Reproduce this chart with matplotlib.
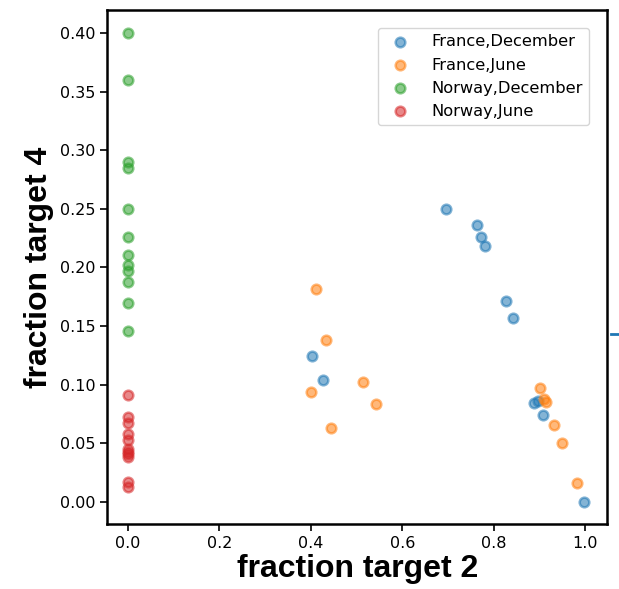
import matplotlib
matplotlib.use("Agg")
import matplotlib.pyplot as plt
from matplotlib.lines import Line2D

# France, December
fr_dec_x = [0.695, 0.764, 0.773, 0.782, 0.828, 0.842, 0.403, 0.427, 0.889, 0.898, 0.907, 0.998]
fr_dec_y = [0.2496, 0.2365, 0.2263, 0.2186, 0.1717, 0.1572, 0.1248, 0.1040, 0.0842, 0.0859, 0.0739, 0.0000]

# France, June
fr_jun_x = [0.411, 0.433, 0.515, 0.400, 0.543, 0.444, 0.902, 0.911, 0.915, 0.933, 0.949, 0.982]
fr_jun_y = [0.1817, 0.1382, 0.1023, 0.0938, 0.0833, 0.0631, 0.0975, 0.0876, 0.0850, 0.0654, 0.0506, 0.0162]

# Norway, December
no_dec_y = [0.400, 0.360, 0.290, 0.285, 0.250, 0.226, 0.211, 0.202, 0.197, 0.188, 0.170, 0.146]
no_dec_x = [0.0] * len(no_dec_y)

# Norway, June
no_jun_y = [0.0913, 0.0722, 0.0671, 0.0577, 0.0529, 0.0452, 0.0429, 0.0409, 0.0381, 0.0173, 0.0125]
no_jun_x = [0.0] * len(no_jun_y)

labels = ["France,December", "France,June", "Norway,December", "Norway,June"]

fig = plt.figure(figsize=(6.19, 5.89), dpi=100)
ax = fig.add_axes([0.1735, 0.1104, 0.8071, 0.8726])

kw = dict(alpha=0.55, s=48, linewidths=1.8)
ax.scatter(fr_dec_x, fr_dec_y, label=labels[0], **kw)
ax.scatter(fr_jun_x, fr_jun_y, label=labels[1], **kw)
ax.scatter(no_dec_x, no_dec_y, label=labels[2], **kw)
ax.scatter(no_jun_x, no_jun_y, label=labels[3], **kw)

ax.set_xlim(-0.045, 1.048)
ax.set_ylim(-0.0188, 0.4196)

ax.set_xlabel("fraction target 2", fontsize=23, fontweight="bold", family="Liberation Sans", labelpad=2)
ax.set_ylabel("fraction target 4", fontsize=23, fontweight="bold", family="Liberation Sans")
for s in ax.spines.values():
    s.set_linewidth(1.8)
ax.tick_params(labelsize=11.5, length=5, width=1.2)
ax.legend(loc="upper right", fontsize=11.7, handletextpad=0.9, borderaxespad=1.1)

# stray tick at the right edge
fig.add_artist(Line2D([0.987, 1.0], [0.433, 0.433], color="tab:blue", lw=2))

fig.savefig("out.png", dpi=100)
